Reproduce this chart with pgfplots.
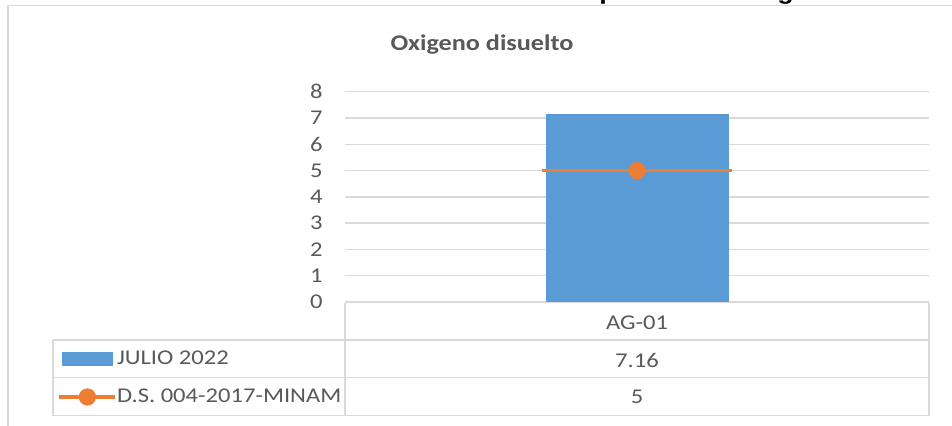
\documentclass[border=0pt]{standalone}
\usepackage{fontspec}
\setmainfont{Carlito}[FakeStretch=1.17]
\newfontfamily\topfont{Liberation Sans}[FakeStretch=1.17]
\usepackage{pgfplots}
\pgfplotsset{compat=1.18}

\definecolor{gridgray}{HTML}{D9D9D9}
\definecolor{txtgray}{HTML}{595959}
\definecolor{barblue}{HTML}{5B9BD5}
\definecolor{lineorange}{HTML}{ED7D31}

\begin{document}
\begin{tikzpicture}[x=0.5pt, y=0.5pt, font=\fontsize{10.5}{12.6}\selectfont]
  \path[use as bounding box] (0,0) rectangle (952,426);

  % caption line of the page, cut off at the top
  \begin{scope}
    \clip (0,0) rectangle (952,426);
    \node[anchor=base east, inner sep=0pt, font=\topfont\bfseries\fontsize{11.5}{13}\selectfont]
      at (594,426.2) {Gráfico N° 11: Resultados del muestreo del};
    \node[anchor=base west, inner sep=0pt, font=\topfont\bfseries\fontsize{11.5}{13}\selectfont]
      at (599,426.2) {parámetro oxígeno disuelto};
  \end{scope}

  % chart area frame
  \draw[gridgray, line width=0.75pt] (8,0) -- (8,420.5) -- (952,420.5);

  \node[font=\bfseries\fontsize{11.2}{13}\selectfont, text=txtgray] at (482,381) {Oxigeno disuelto};

  \begin{axis}[
      at={(172.5pt,62pt)}, anchor=south west,
      scale only axis,
      width=292pt, height=105.15pt,
      xmin=0, xmax=1,
      ymin=0, ymax=8,
      ytick={0,1,...,8},
      xtick=\empty,
      ymajorgrids=true,
      grid style={gridgray, line width=0.75pt},
      axis line style={draw=none},
      major tick length=0pt,
      yticklabel style={text=txtgray, inner sep=0pt, xshift=-11pt},
      /pgf/number format/assume math mode=true,
      clip=false,
      legend cell align=left,
      legend style={
        draw=none, fill=none,
        at={(axis description cs:-0.5,-0.1807)}, anchor=north west,
        inner sep=0pt, outer sep=0pt,
        row sep=0pt, column sep=0pt,
        nodes={inner sep=0pt, minimum height=19pt, text=txtgray}
      }
    ]

    % JULIO 2022
    \addplot[ybar, bar width=91.5pt, fill=barblue, draw=none,
      legend image code/.code={
        \path (0pt,0pt) (31pt,0pt);
        \fill[barblue] (4.5pt,-3.5pt) rectangle (30pt,3.5pt);
      }]
      coordinates {(0.5,7.16)};
    \addlegendentry{JULIO 2022}

    % D.S. 004-2017-MINAM: level across the category, with its marker
    \addplot[lineorange, line width=1.65pt, mark=none, forget plot]
      coordinates {(0.337,5) (0.663,5)};
    \addplot[only marks, mark=*, mark size=4.1pt, color=lineorange,
      legend image code/.code={
        \path (0pt,0pt) (31pt,0pt);
        \draw[lineorange, line width=1.65pt] (3pt,0pt) -- (31pt,0pt);
        \fill[lineorange] (17pt,0pt) circle (4.1pt);
      }]
      coordinates {(0.5,5)};
    \addlegendentry{D.S. 004-2017-MINAM}

  \end{axis}

  % data table below the plot
  \begin{scope}[gridgray, line width=0.65pt]
    \draw (345,123.3) -- (929,123.3);
    \draw (345,123.3) -- (345,10.3);
    \draw (929,123.3) -- (929,10.3);
    \draw (53,86) -- (929,86);
    \draw (53,48.3) -- (929,48.3);
    \draw (53,10.3) -- (929,10.3);
    \draw (53,86) -- (53,10.3);
  \end{scope}
  \node[text=txtgray] at (637,103.3) {AG-01};
  \node[text=txtgray] at (637,66) {7.16};
  \node[text=txtgray] at (637,29) {5};
\end{tikzpicture}
\end{document}
